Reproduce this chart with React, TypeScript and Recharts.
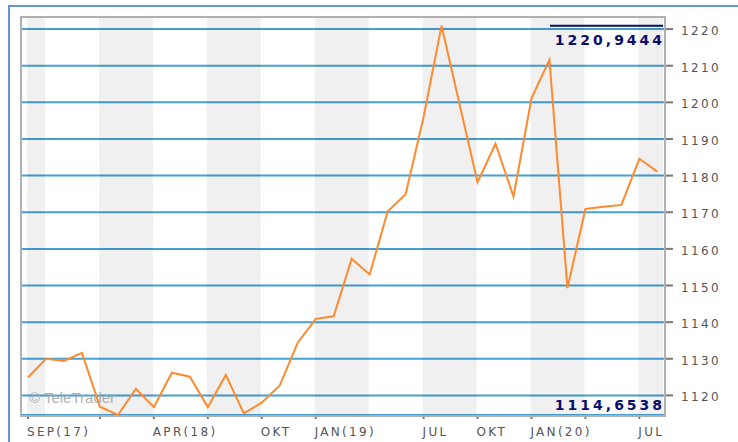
import React from 'react'
import { LineChart, Line, XAxis, YAxis, CartesianGrid, ReferenceArea, ReferenceLine } from 'recharts'

// monthly closes, Sep 2017 .. Aug 2020
const months = [
  'Sep 17', 'Okt 17', 'Nov 17', 'Dez 17', 'Jan 18', 'Feb 18', 'Mär 18', 'Apr 18', 'Mai 18',
  'Jun 18', 'Jul 18', 'Aug 18', 'Sep 18', 'Okt 18', 'Nov 18', 'Dez 18', 'Jan 19', 'Feb 19',
  'Mär 19', 'Apr 19', 'Mai 19', 'Jun 19', 'Jul 19', 'Aug 19', 'Sep 19', 'Okt 19', 'Nov 19',
  'Dez 19', 'Jan 20', 'Feb 20', 'Mär 20', 'Apr 20', 'Mai 20', 'Jun 20', 'Jul 20', 'Aug 20',
]
const prices = [
  1124.9, 1130.0, 1129.4, 1131.6, 1116.9, 1114.65, 1121.8, 1116.8, 1126.2,
  1125.1, 1116.8, 1125.6, 1115.1, 1118.0, 1122.7, 1134.4, 1140.9, 1141.6,
  1157.3, 1153.0, 1170.2, 1174.9, 1196.0, 1220.94, 1199.5, 1178.2, 1188.7,
  1174.3, 1201.1, 1211.6, 1149.3, 1170.9, 1171.5, 1172.0, 1184.6, 1181.1,
]
const yTicks = [1120, 1130, 1140, 1150, 1160, 1170, 1180, 1190, 1200, 1210, 1220]
const xTickIndex = [0, 4, 7, 10, 13, 16, 22, 25, 28, 31, 34]
const xTickLabels = ['SEP(17)', '', 'APR(18)', '', 'OKT', 'JAN(19)', 'JUL', 'OKT', 'JAN(20)', '', 'JUL']
const bandFrom = [0, 4, 10, 16, 22, 28, 34]
const bandTo = [1, 7, 13, 19, 25, 31, 35.37]
const maxValue = 1220.9444
const minValue = 1114.6538
const maxText = '1220,9444'
const minText = '1114,6538'

const data = months.map((m, i) => ({ i, month: m, price: prices[i] }))

const tickFont = 'DejaVu Sans, sans-serif'

const XTick = (props: any) => {
  const { x, y, payload } = props
  const label = xTickLabels[xTickIndex.indexOf(payload.value)]
  return (
    <text x={x - 1} y={y + 15} fill="#555" fontSize={12} letterSpacing={2.3} fontFamily={tickFont}>
      {label}
    </text>
  )
}

const YTick = (props: any) => {
  const { x, y, payload } = props
  return (
    <text x={x} y={y + 6} fill="#555" fontSize={12} letterSpacing={2.4} fontFamily={tickFont}>
      {payload.value}
    </text>
  )
}

const extremeLabel = (text: string, dy: number) => (props: any) => {
  const vb = props.viewBox || {}
  return (
    <text
      x={(vb.x || 0) + (vb.width || 0) + 2}
      y={(vb.y || 0) + dy}
      textAnchor="end"
      fill="#0c0c6e"
      fontSize={14}
      fontWeight="bold"
      letterSpacing={3}
      fontFamily={tickFont}
    >
      {text}
    </text>
  )
}

export default function App() {
  return (
    <div style={{ position: 'absolute', left: 0, top: 0, width: 738, height: 442, overflow: 'hidden', background: '#fff' }}>
      <div style={{ position: 'absolute', left: 8, top: 5, width: 780, height: 480, border: '2px solid #6593d6' }} />
      <div style={{ position: 'absolute', left: 0, top: 0 }}>
        <LineChart width={738} height={442} data={data} margin={{ top: 17, left: 20, right: 0, bottom: 0 }}>
          <CartesianGrid vertical={false} stroke="#45a0d6" strokeWidth={2} />
          {bandFrom.map((b, k) => (
            <ReferenceArea
              key={k}
              x1={b - 0.05}
              x2={bandTo[k] - 0.05}
              fill="#000"
              fillOpacity={0.058}
              stroke="none"
              ifOverflow="hidden"
            />
          ))}
          <XAxis
            dataKey="i"
            type="number"
            domain={[-0.445, 35.37]}
            ticks={xTickIndex}
            interval={0}
            height={27}
            axisLine={false}
            tickSize={4}
            tickMargin={2}
            tickLine={{ stroke: '#777', strokeWidth: 2 }}
            tick={<XTick />}
            allowDataOverflow
          />
          <YAxis
            orientation="right"
            type="number"
            domain={[1114.65, 1223.3]}
            ticks={yTicks}
            width={74}
            axisLine={false}
            tickSize={9}
            tickMargin={8}
            tickLine={{ stroke: '#777', strokeWidth: 2 }}
            tick={<YTick />}
            allowDataOverflow
          />
          <ReferenceLine
            segment={[{ x: 29.03, y: maxValue }, { x: 35.32, y: maxValue }]}
            stroke="#0c0c6e"
            strokeWidth={2}
            ifOverflow="visible"
            label={extremeLabel(maxText, 19)}
          />
          <ReferenceLine
            segment={[{ x: 29.03, y: minValue }, { x: 35.32, y: minValue }]}
            stroke="none"
            ifOverflow="visible"
            label={extremeLabel(minText, -5)}
          />
          <Line
            type="linear"
            dataKey="price"
            stroke="#ff8a2e"
            strokeWidth={2}
            dot={false}
            activeDot={false}
            isAnimationActive={false}
          />
        </LineChart>
      </div>
      <div
        style={{
          position: 'absolute', left: 20, top: 16, width: 646, height: 401,
          border: '2px solid #b0b0b0', boxSizing: 'border-box', pointerEvents: 'none',
        }}
      />
      <div
        style={{
          position: 'absolute', left: 29, top: 389, fontSize: 15, lineHeight: '18px',
          fontFamily: 'Liberation Sans, Arial, sans-serif', color: '#a4a4a4', opacity: 0.85,
        }}
      >
        © TeleTrader
      </div>
    </div>
  )
}
